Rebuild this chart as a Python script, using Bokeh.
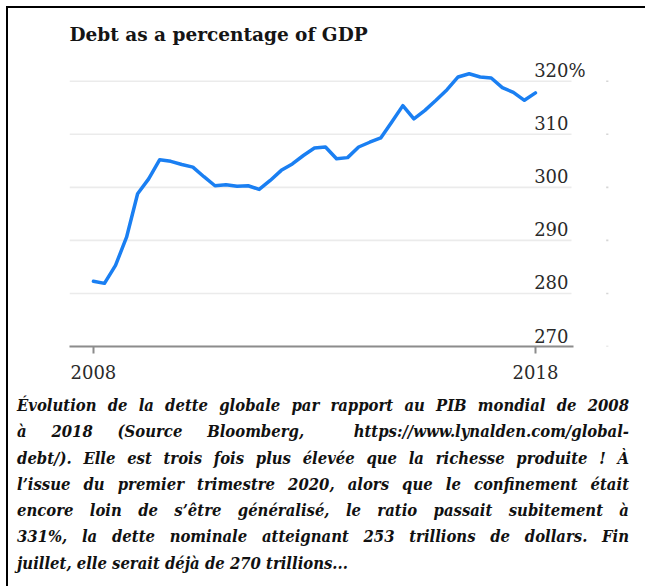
from bokeh.plotting import figure
from bokeh.models import FixedTicker, Range1d, LabelSet, ColumnDataSource, Div
from bokeh.layouts import column
from bokeh.embed import file_html
from bokeh.resources import INLINE
from bokeh.core.properties import value

# ---- data (quarterly, 2008Q1 .. 2018Q1) ----
years = [2008.0, 2008.25, 2008.5, 2008.75, 2009.0, 2009.25, 2009.5, 2009.75,
         2010.0, 2010.25, 2010.5, 2010.75, 2011.0, 2011.25, 2011.5, 2011.75,
         2012.0, 2012.25, 2012.5, 2012.75, 2013.0, 2013.25, 2013.5, 2013.75,
         2014.0, 2014.25, 2014.5, 2014.75, 2015.0, 2015.25, 2015.5, 2015.75,
         2016.0, 2016.25, 2016.5, 2016.75, 2017.0, 2017.25, 2017.5, 2017.75,
         2018.0]
debt_pct = [282.3, 281.9, 285.3, 290.6, 298.8, 301.6, 305.2, 304.9, 304.3, 303.8,
            302.0, 300.3, 300.5, 300.2, 300.3, 299.6, 301.3, 303.2, 304.4, 306.0,
            307.4, 307.6, 305.4, 305.6, 307.6, 308.5, 309.3, 312.3, 315.4, 312.9,
            314.5, 316.4, 318.4, 320.8, 321.4, 320.8, 320.6, 318.8, 317.9, 316.4,
            317.8]
y_ticks = [270, 280, 290, 300, 310, 320]
y_tick_labels = ["270", "280", "290", "300", "310", "320%"]
x_ticks = [2008, 2018]

title_text = "Debt as a percentage of GDP"
caption_lines = [
    "Évolution de la dette globale par rapport au PIB mondial de 2008",
    "à 2018 (Source Bloomberg,&nbsp; https://www.lynalden.com/global-",
    "debt/). Elle est trois fois plus élevée que la richesse produite ! À",
    "l’issue du premier trimestre 2020, alors que le confinement était",
    "encore loin de s’être généralisé, le ratio passait subitement à",
    "331%, la dette nominale atteignant 253 trillions de dollars. Fin",
    "juillet, elle serait déjà de 270 trillions...",
]

# ---- layout constants ----
X_START, X_END = 2007.459, 2019.743    # frame range
Y_START, Y_END = 270, 324.47
GRID_END = 2018.815                    # where the horizontal rules stop
AXIS_END = 2018.86
LABEL_X = 2017.97
STUB_X0, STUB_X1 = 2019.60, 2019.65    # edge of the neighbouring (cropped) chart
SERIF = "DejaVu Serif"

p = figure(width=629, height=380,
           x_range=Range1d(X_START, X_END), y_range=Range1d(Y_START, Y_END),
           output_backend="svg", toolbar_location=None,
           min_border_left=61, min_border_right=25, min_border_top=49,
           min_border_bottom=42)
p.outline_line_color = None
p.background_fill_color = "white"
p.border_fill_color = "white"

p.title.text = title_text
p.title.text_font = SERIF
p.title.text_font_style = "bold"
p.title.text_font_size = "18.5px"
p.title.text_color = "#151515"
p.title.align = "left"
p.title.offset = 0
p.title.standoff = 25

p.yaxis.visible = False
p.xgrid.visible = False
p.ygrid.visible = False

xa = p.xaxis[0]
xa.ticker = FixedTicker(ticks=x_ticks)
xa.bounds = (X_START, AXIS_END)
xa.axis_line_color = "#8c8c8c"
xa.axis_line_width = 2
xa.major_tick_line_color = "#8c8c8c"
xa.major_tick_line_width = 2
xa.major_tick_in = 0
xa.major_tick_out = 7
xa.minor_tick_line_color = None
xa.major_label_text_font = SERIF
xa.major_label_text_font_size = "18px"
xa.major_label_text_color = "#2a2a2a"
xa.major_label_standoff = 11

# horizontal rules at the y ticks
p.segment(x0=[X_START] * len(y_ticks), y0=y_ticks,
          x1=[GRID_END] * len(y_ticks), y1=y_ticks,
          line_color="#ebebeb", line_width=1.6)
# tiny rule stubs of the cropped neighbouring chart
p.segment(x0=[STUB_X0] * len(y_ticks), y0=y_ticks,
          x1=[STUB_X1] * len(y_ticks), y1=y_ticks,
          line_color="#d6d6d6", line_width=1.6)

p.line(years, debt_pct, line_color="#1a7ff2", line_width=3.5,
       line_join="round", line_cap="round")

src = ColumnDataSource(dict(x=[LABEL_X] * len(y_ticks), y=y_ticks, t=y_tick_labels))
p.add_layout(LabelSet(x="x", y="y", text="t", source=src,
                      text_font=value(SERIF), text_font_size="18px",
                      text_color="#2a2a2a", text_align="left",
                      text_baseline="alphabetic", y_offset=4))

rows = []
for i, line in enumerate(caption_lines):
    last = "left" if i == len(caption_lines) - 1 else "justify"
    rows.append(f'<div style="text-align:justify;text-align-last:{last};">{line}</div>')
html = ('<div style="box-sizing:border-box;width:629px;padding:0 13px 0 4px;'
        'font-family:\'DejaVu Serif Condensed\',\'DejaVu Serif\';font-stretch:condensed;'
        'font-style:italic;font-weight:bold;'
        'font-size:16.5px;line-height:26.3px;color:#111;">' + "".join(rows) + '</div>')
cap = Div(text=html, width=629, height=188)

layout = column(p, cap, styles={"border-top": "2px solid #000",
                                "border-left": "2px solid #000",
                                "margin-left": "6px", "margin-top": "6px"})

open("out.html", "w").write(file_html(layout, INLINE))
